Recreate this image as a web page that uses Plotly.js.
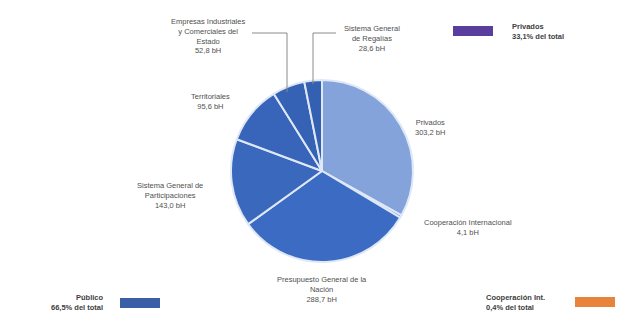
<!DOCTYPE html>
<html><head><meta charset="utf-8">
<script src="https://cdn.plot.ly/plotly-3.0.1.min.js"></script>
<style>html,body{margin:0;padding:0;background:#fff}#chart{width:624px;height:322px}</style>
</head><body><div id="chart"></div>
<script>
const categories = ["Privados", "Cooperación Internacional", "Presupuesto General de la Nación", "Sistema General de Participaciones", "Territoriales", "Empresas Industriales y Comerciales del Estado", "Sistema General de Regalías"];
const values = [303.2, 4.1, 288.7, 143.0, 95.6, 52.8, 28.6];
const valueLabels = ["303,2 bH", "4,1 bH", "288,7 bH", "143,0 bH", "95,6 bH", "52,8 bH", "28,6 bH"];
const groupNames = ["Privados", "Público", "Cooperación Int."];
const groupShares = ["33,1% del total", "66,5% del total", "0,4% del total"];

const W = 624, H = 322;
const px = x => x / W, py = y => 1 - y / H;
const sliceColors = ["#83a3da", "#4a78c8", "#3b6bc2", "#3a68bd", "#3865b9", "#3662b5", "#3460b2"];
const font = {family: "Liberation Sans, Arial, sans-serif", size: 7.5, color: "#505050"};

const trace = {
  type: "pie", values: values, labels: categories, sort: false, direction: "clockwise", rotation: 0,
  textinfo: "none", hoverinfo: "label+value",
  marker: {colors: sliceColors, line: {color: "#dfe8f7", width: 2}},
  domain: {x: [px(231), px(413)], y: [py(262), py(80)]},
  showlegend: false
};

const labelPos = [
  [430, 127, "Privados<br>" + valueLabels[0]],
  [468, 227, "Cooperación Internacional<br>" + valueLabels[1]],
  [322, 289, "Presupuesto General de la<br>Nación<br>" + valueLabels[2]],
  [170, 195, "Sistema General de<br>Participaciones<br>" + valueLabels[3]],
  [210, 101, "Territoriales<br>" + valueLabels[4]],
  [208, 36, "Empresas Industriales<br>y Comerciales del<br>Estado<br>" + valueLabels[5]],
  [372, 38, "Sistema General<br>de Regalías<br>" + valueLabels[6]]
];
const annotations = labelPos.map(p => ({
  x: px(p[0]), y: py(p[1]), xref: "paper", yref: "paper", text: p[2], showarrow: false,
  font: font, align: "center", xanchor: "center", yanchor: "middle"
}));
const bold = s => "<b>" + s + "</b>";
const bfont = Object.assign({}, font, {color: "#404040"});
annotations.push({x: px(510), y: py(31), xref: "paper", yref: "paper", showarrow: false, align: "left", xanchor: "left", yanchor: "middle", font: bfont, text: bold(groupNames[0]) + "<br>" + bold(groupShares[0])});
annotations.push({x: px(106), y: py(302), xref: "paper", yref: "paper", showarrow: false, align: "right", xanchor: "right", yanchor: "middle", font: bfont, text: bold(groupNames[1]) + "<br>" + bold(groupShares[1])});
annotations.push({x: px(484), y: py(302), xref: "paper", yref: "paper", showarrow: false, align: "left", xanchor: "left", yanchor: "middle", font: bfont, text: bold(groupNames[2]) + "<br>" + bold(groupShares[2])});

const rect = (x0, y0, x1, y1, c) => ({type: "rect", xref: "paper", yref: "paper", x0: px(x0), x1: px(x1), y0: py(y1), y1: py(y0), fillcolor: c, line: {width: 0}});
const path = (pts) => ({type: "path", xref: "paper", yref: "paper", path: pts.map((p, i) => (i ? "L" : "M") + px(p[0]) + "," + py(p[1])).join(" "), line: {color: "#8a8a8a", width: 1}});
const shapes = [
  rect(453, 26, 493, 36, "#5a3e9e"),
  rect(120, 298, 160, 308, "#3a5fa6"),
  rect(575, 297, 615, 307, "#e7833a"),
  path([[252, 33], [287, 33], [287, 92]]),
  path([[336, 33], [313, 33], [313, 84]])
];

Plotly.newPlot("chart", [trace], {
  width: W, height: H, margin: {l: 0, r: 0, t: 0, b: 0},
  paper_bgcolor: "#fff", plot_bgcolor: "#fff",
  annotations: annotations, shapes: shapes
}, {displayModeBar: false, staticPlot: true});
</script></body></html>
